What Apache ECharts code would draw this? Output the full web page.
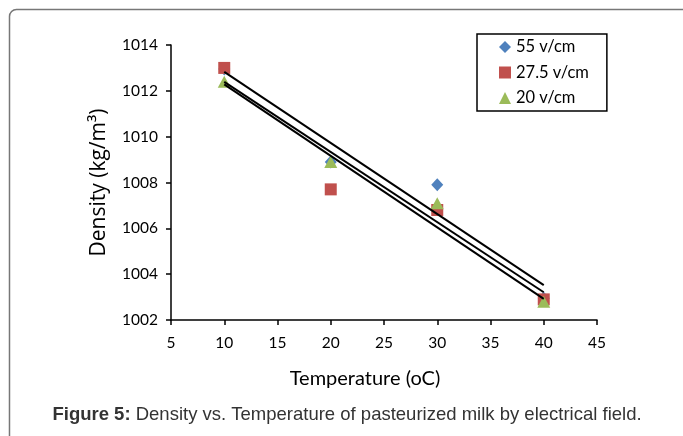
<!DOCTYPE html>
<html>
<head>
<meta charset="utf-8">
<script src="https://cdn.jsdelivr.net/npm/echarts@6/dist/echarts.min.js"></script>
<style>
html,body{margin:0;padding:0;background:#fff;}
#chart{width:683px;height:436px;}
</style>
</head>
<body>
<div id="chart"></div>
<script>
// Data
const temperatures = [10, 20, 30, 40];
const density55 = [1012.95, 1008.9, 1007.9, 1002.95];
const density275 = [1013.0, 1007.7, 1006.8, 1002.9];
const density20 = [1012.4, 1008.9, 1007.1, 1002.8];
const seriesNames = ['55 v/cm', '27.5 v/cm', '20 v/cm'];
const xTicks = {min: 5, max: 45, interval: 5};
const yTicks = {min: 1002, max: 1014, interval: 2};

function pairs(xs, ys) { return xs.map((x, i) => [x, ys[i]]); }
function trend(xs, ys) {
  const n = xs.length;
  const mx = xs.reduce((a, b) => a + b, 0) / n;
  const my = ys.reduce((a, b) => a + b, 0) / n;
  let sxy = 0, sxx = 0;
  for (let i = 0; i < n; i++) { sxy += (xs[i] - mx) * (ys[i] - my); sxx += (xs[i] - mx) * (xs[i] - mx); }
  const b = sxy / sxx, a = my - b * mx;
  const x0 = Math.min(...xs), x1 = Math.max(...xs);
  return [[x0, a + b * x0], [x1, a + b * x1]];
}

const humanist = 'Lato, "Open Sans", sans-serif';
const chart = echarts.init(document.getElementById('chart'));
const trendStyle = {color: '#000', width: 2};
chart.setOption({
  animation: false,
  backgroundColor: '#fff',
  grid: {left: 171, top: 45, width: 426, height: 275},
  xAxis: {
    type: 'value', min: xTicks.min, max: xTicks.max, interval: xTicks.interval,
    axisLine: {lineStyle: {color: '#000', width: 1.5}},
    axisTick: {show: true, length: 5, lineStyle: {color: '#000', width: 1.5}},
    axisLabel: {margin: 15, fontFamily: humanist, fontSize: 15.5, color: '#000', formatter: v => String(v)},
    splitLine: {show: false}
  },
  yAxis: {
    type: 'value', min: yTicks.min, max: yTicks.max, interval: yTicks.interval,
    name: 'Density (kg/m³)', nameLocation: 'middle', nameGap: 61,
    nameTextStyle: {fontFamily: '"Open Sans", sans-serif', fontSize: 21, color: '#000'},
    axisLine: {show: true, lineStyle: {color: '#000', width: 1.5}},
    axisTick: {show: true, length: 5, lineStyle: {color: '#000', width: 1.5}},
    axisLabel: {margin: 13, fontFamily: humanist, fontSize: 15.5, color: '#000', formatter: v => String(v)},
    splitLine: {show: false}
  },
  legend: {
    orient: 'vertical', left: 477, top: 34,
    data: seriesNames,
    borderColor: '#000', borderWidth: 1.5,
    padding: [4, 18, 4, 22],
    itemGap: 7.5, itemWidth: 12, itemHeight: 12,
    textStyle: {fontFamily: humanist, fontSize: 16.5, lineHeight: 18, color: '#000'}
  },
  graphic: [
    {type: 'rect', shape: {x: 9.5, y: 9.5, width: 720, height: 460, r: 7},
     style: {fill: 'none', stroke: '#777', lineWidth: 1.5}, silent: true, z: -1},
    {type: 'text', x: 365, y: 379,
     style: {text: 'Temperature (oC)', fontFamily: humanist, fontSize: 20, fill: '#000',
             textAlign: 'center', textVerticalAlign: 'middle'}},
    {type: 'text', x: 347, y: 415,
     style: {
       rich: {
         b: {fontFamily: '"Liberation Sans", Arial, sans-serif', fontSize: 18.5, fontWeight: 'bold', fill: '#333'},
         n: {fontFamily: '"Liberation Sans", Arial, sans-serif', fontSize: 18.5, fill: '#333'}
       },
       text: '{b|Figure 5:}{n| Density vs. Temperature of pasteurized milk by electrical field.}',
       textAlign: 'center', textVerticalAlign: 'middle'
     }}
  ],
  series: [
    {name: seriesNames[0], type: 'scatter', symbol: 'diamond', symbolSize: [12, 13],
     itemStyle: {color: '#4F81BD', opacity: 1}, data: pairs(temperatures, density55), z: 2},
    {name: seriesNames[1], type: 'scatter', symbol: 'rect', symbolSize: 12,
     itemStyle: {color: '#C0504D', opacity: 1}, data: pairs(temperatures, density275), z: 3},
    {name: seriesNames[2], type: 'scatter', symbol: 'triangle', symbolSize: [13, 12],
     itemStyle: {color: '#9BBB59', opacity: 1}, data: pairs(temperatures, density20), z: 4},
    {name: 'trend55', type: 'line', data: trend(temperatures, density55), symbol: 'none', lineStyle: trendStyle, z: 6, silent: true},
    {name: 'trend275', type: 'line', data: trend(temperatures, density275), symbol: 'none', lineStyle: trendStyle, z: 6, silent: true},
    {name: 'trend20', type: 'line', data: trend(temperatures, density20), symbol: 'none', lineStyle: trendStyle, z: 6, silent: true}
  ]
});
</script>
</body>
</html>
